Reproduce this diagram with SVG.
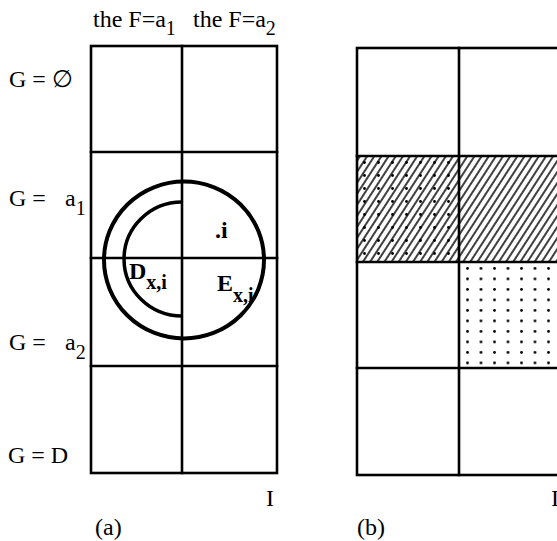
<svg xmlns="http://www.w3.org/2000/svg" width="557" height="541" viewBox="0 0 557 541">
<style>
.t{font-family:"Liberation Serif","Times New Roman",serif;font-size:24px;fill:#000}
.s{font-size:20px}
.b{font-weight:bold}
.g{stroke:#000;stroke-width:2.6;fill:none;stroke-linecap:square}
.c{stroke:#000;fill:none}
</style>
<defs>
<pattern id="hatch" patternUnits="userSpaceOnUse" width="6" height="6" patternTransform="rotate(33)">
<line x1="3" y1="0" x2="3" y2="6" stroke="#000" stroke-width="1.5"/>
</pattern>
<pattern id="dots" patternUnits="userSpaceOnUse" x="466" y="267" width="13.5" height="10.5">
<circle cx="1.5" cy="1.5" r="1.4" fill="#000"/>
</pattern>
<pattern id="dots2" patternUnits="userSpaceOnUse" x="363" y="161" width="14" height="13">
<circle cx="1.5" cy="1.5" r="1.4" fill="#000"/>
</pattern>
</defs>
<rect width="557" height="541" fill="#fff"/>

<g id="labels-a">
<text class="t" x="93" y="27">the F=a<tspan class="s" dy="8">1</tspan></text>
<text class="t" x="193" y="27">the F=a<tspan class="s" dy="8">2</tspan></text>
<text class="t" x="9" y="87">G = ∅</text>
<text class="t" x="9" y="206">G =</text><text class="t" x="65" y="206">a<tspan class="s" dy="9">1</tspan></text>
<text class="t" x="9" y="350">G =</text><text class="t" x="65" y="350">a<tspan class="s" dy="9">2</tspan></text>
<text class="t" x="8" y="463">G = D</text>
<text class="t" x="266" y="506">I</text>
<text class="t" x="95" y="535">(a)</text>
</g>

<g id="grid-a">
<rect class="g" x="91" y="46" width="186" height="427"/>
<line class="g" x1="182" y1="46" x2="182" y2="473" stroke-width="2"/>
<line class="g" x1="91" y1="152" x2="277" y2="152"/>
<line class="g" x1="91" y1="258" x2="277" y2="258"/>
<line class="g" x1="91" y1="366" x2="277" y2="366"/>
</g>

<g id="regions">
<ellipse class="c" cx="184" cy="260" rx="80" ry="78.5" stroke-width="4"/>
<path class="c" d="M182,202 A58,57 0 0 0 182,316" stroke-width="3.5"/>
<text class="t b" x="215" y="238">.i</text>
<text class="t b" x="129" y="279">D<tspan class="s" dy="10">x,i</tspan></text>
<text class="t b" x="217" y="291">E<tspan class="s" dy="11">x,i</tspan></text>
</g>

<g id="grid-b">
<rect x="357" y="156" width="210" height="106" fill="url(#hatch)"/>
<rect x="357" y="156" width="102" height="106" fill="url(#dots2)"/>
<rect x="459" y="262" width="108" height="106" fill="url(#dots)"/>
<rect class="g" x="357" y="48" width="210" height="427"/>
<line class="g" x1="459" y1="48" x2="459" y2="475" stroke-width="2"/>
<line class="g" x1="357" y1="156" x2="567" y2="156"/>
<line class="g" x1="357" y1="262" x2="567" y2="262"/>
<line class="g" x1="357" y1="368" x2="567" y2="368"/>
<text class="t" x="551" y="506">I</text>
<text class="t" x="357" y="535">(b)</text>
</g>
</svg>
